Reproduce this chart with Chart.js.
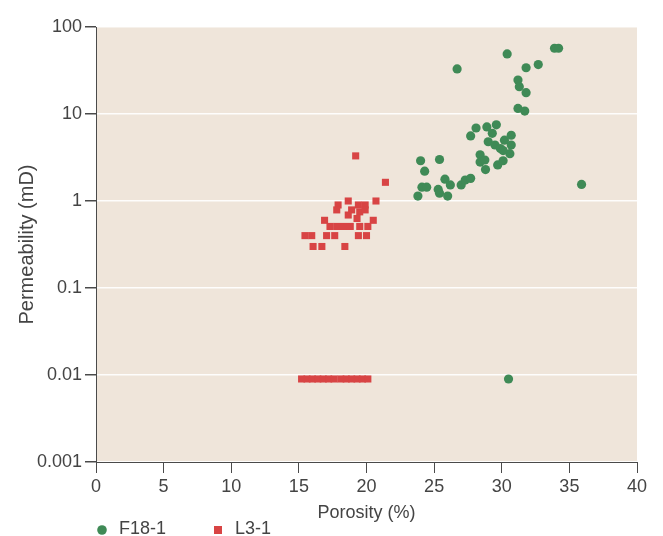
<!DOCTYPE html>
<html>
<head>
<meta charset="utf-8">
<script src="https://cdn.jsdelivr.net/npm/chart.js@4.4.1/dist/chart.umd.min.js"></script>
<style>
  html, body { margin: 0; padding: 0; background: #ffffff; }
  #wrap { width: 663px; height: 536px; position: relative; }
</style>
</head>
<body>
<div id="wrap"><canvas id="c" width="663" height="536"></canvas></div>
<script>
// ---- Data ----
const seriesNames = ["F18-1", "L3-1"];

const porosityF18 = [26.7, 30.4, 31.8, 32.7, 33.9, 34.2, 31.2, 31.3, 31.8, 31.2, 31.7,
  24.0, 25.4, 24.3, 23.8, 24.1, 24.45, 25.3, 25.4, 26.0, 25.8, 26.2, 27.0, 27.3, 27.7,
  27.7, 28.1, 28.9, 29.6, 29.3, 29.0, 29.5, 29.9, 30.2, 30.7, 30.7, 30.6, 30.1,
  28.4, 28.4, 28.75, 28.8, 29.7, 30.1, 35.9, 30.5];
const permF18 = [33, 49, 34, 37, 57, 57, 24.6, 20.6, 17.6, 11.6, 10.8,
  2.9, 3.0, 2.2, 1.14, 1.44, 1.44, 1.36, 1.23, 1.14, 1.78, 1.53, 1.53, 1.74, 1.82,
  5.6, 6.9, 7.1, 7.5, 6.0, 4.8, 4.4, 4.0, 5.0, 5.7, 4.4, 3.5, 3.8,
  3.4, 2.8, 2.96, 2.3, 2.6, 2.9, 1.55, 0.009];

const porosityL3 = [19.2, 21.4, 17.9, 18.65, 20.7, 19.4, 19.9, 18.9, 19.5, 19.9, 17.8,
  16.9, 18.65, 19.3, 20.5,
  17.3, 17.8, 18.3, 18.8, 19.5, 20.1,
  15.45, 15.95, 17.05, 17.65, 19.4, 20.0,
  16.05, 16.7, 18.4,
  15.2, 15.6, 16.0, 16.4, 16.8, 17.2, 17.6, 18.1, 18.5, 18.9, 19.3, 19.7, 20.1];
const permL3 = [3.3, 1.64, 0.9, 1.0, 1.0, 0.9, 0.9, 0.79, 0.75, 0.79, 0.79,
  0.6, 0.69, 0.63, 0.6,
  0.51, 0.51, 0.51, 0.51, 0.51, 0.51,
  0.40, 0.40, 0.40, 0.40, 0.40, 0.40,
  0.30, 0.30, 0.30,
  0.009, 0.009, 0.009, 0.009, 0.009, 0.009, 0.009, 0.009, 0.009, 0.009, 0.009, 0.009, 0.009];

const xTicks = [0, 5, 10, 15, 20, 25, 30, 35, 40];
const yTicks = [0.001, 0.01, 0.1, 1, 10, 100];
const yTickLabels = ["0.001", "0.01", "0.1", "1", "10", "100"];

const xTitle = "Porosity (%)";
const yTitle = "Permeability (mD)";

// ---- Styles ----
const GREEN = "#3f8a56";
const RED = "#d84444";
const PLOT_BG = "#efe5da";
const AXIS = "#4a4a4a";
const TEXT = "#444444";
const FONT = "'Liberation Sans', Arial, sans-serif";
const FS = 18;

const toPts = (xs, ys) => xs.map((x, i) => ({ x: x, y: ys[i] }));

const plotBg = {
  id: "plotBg",
  beforeDraw(chart) {
    const { ctx, chartArea: a } = chart;
    ctx.save();
    ctx.fillStyle = PLOT_BG;
    ctx.fillRect(a.left, a.top, a.right - a.left, a.bottom - a.top);
    ctx.restore();
  }
};

const bottomLegend = {
  id: "bottomLegend",
  afterDraw(chart) {
    const ctx = chart.ctx;
    const y = 530;
    const xs = [102, 218];
    ctx.save();
    chart.data.datasets.forEach((ds, i) => {
      const x = xs[i];
      ctx.fillStyle = ds.backgroundColor;
      if (ds.pointStyle === "rect") {
        ctx.fillRect(x - 4, y - 4, 8, 8);
      } else {
        ctx.beginPath();
        ctx.arc(x, y, 4.8, 0, Math.PI * 2);
        ctx.fill();
      }
      ctx.fillStyle = TEXT;
      ctx.font = FS + "px " + FONT;
      ctx.textAlign = "left";
      ctx.textBaseline = "middle";
      ctx.fillText(ds.label, x + 17, y - 1);
    });
    ctx.restore();
  }
};

new Chart(document.getElementById("c"), {
  type: "scatter",
  data: {
    datasets: [
      {
        label: seriesNames[0],
        data: toPts(porosityF18, permF18),
        backgroundColor: GREEN,
        borderWidth: 0,
        pointStyle: "circle",
        pointRadius: 4.6,
        pointHoverRadius: 4.6
      },
      {
        label: seriesNames[1],
        data: toPts(porosityL3, permL3),
        backgroundColor: RED,
        borderWidth: 0,
        pointStyle: "rect",
        pointRadius: 5,
        pointHoverRadius: 5
      }
    ]
  },
  options: {
    responsive: false,
    animation: false,
    events: [],
    layout: { padding: { top: 27, right: 26, bottom: 12, left: 0 } },
    plugins: {
      legend: { display: false },
      tooltip: { enabled: false }
    },
    scales: {
      x: {
        type: "linear",
        min: 0,
        max: 40,
        afterBuildTicks(scale) { scale.ticks = xTicks.map(v => ({ value: v })); },
        afterFit(scale) { scale.height = 62; },
        ticks: { color: TEXT, font: { size: FS, family: FONT }, padding: 3, maxRotation: 0 },
        grid: { drawOnChartArea: false, color: AXIS, tickColor: AXIS, tickLength: 11, lineWidth: 1 },
        border: { display: true, color: AXIS, width: 1 },
        title: { display: true, text: xTitle, color: TEXT, font: { size: FS, family: FONT }, padding: { top: 0, bottom: 0 } }
      },
      y: {
        type: "logarithmic",
        min: 0.001,
        max: 100,
        afterBuildTicks(scale) { scale.ticks = yTicks.map(v => ({ value: v })); },
        afterFit(scale) { scale.width = 96; },
        ticks: {
          color: TEXT,
          font: { size: FS, family: FONT },
          padding: 3,
          callback(value) {
            const i = yTicks.findIndex(t => Math.abs(Math.log10(t) - Math.log10(value)) < 1e-6);
            return i >= 0 ? yTickLabels[i] : "";
          }
        },
        grid: { drawOnChartArea: true, color: "rgba(255,255,255,0.9)", tickColor: AXIS, tickLength: 11, lineWidth: 1.5 },
        border: { display: true, color: AXIS, width: 1 },
        title: { display: true, text: yTitle, color: TEXT, font: { size: 20, family: FONT }, padding: { top: 15, bottom: 0 } }
      }
    }
  },
  plugins: [plotBg, bottomLegend]
});
</script>
</body>
</html>
